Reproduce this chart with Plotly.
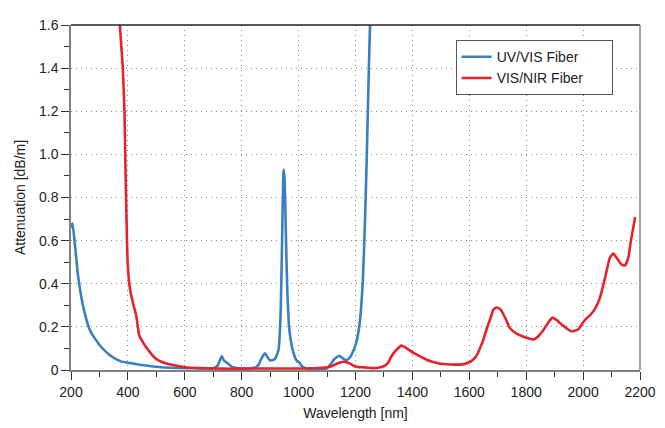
import plotly.graph_objects as go

# ---- data ----
wl_uv = [200, 205, 214, 225, 244, 268, 304, 339, 375, 400, 457, 518, 577, 640, 700,
         715, 730, 737, 744, 756, 768, 790, 815, 850, 860, 868, 882, 890, 899, 910,
         917, 925, 930, 937, 942, 946, 948, 951, 955, 960, 968, 982, 995, 1003, 1010,
         1030, 1060, 1100, 1112, 1125, 1143, 1155, 1167, 1178, 1185, 1202, 1214, 1226,
         1234, 1240, 1246, 1251, 1256]
att_uv = [0.66, 0.68, 0.58, 0.435, 0.287, 0.18, 0.11, 0.066, 0.04, 0.034, 0.022, 0.013,
          0.009, 0.008, 0.008, 0.02, 0.065, 0.045, 0.037, 0.025, 0.013, 0.008, 0.006,
          0.013, 0.025, 0.05, 0.077, 0.06, 0.045, 0.046, 0.052, 0.075, 0.1, 0.27, 0.6,
          0.9, 0.93, 0.88, 0.65, 0.38, 0.18, 0.08, 0.04, 0.035, 0.02, 0.006, 0.005,
          0.008, 0.025, 0.05, 0.066, 0.055, 0.045, 0.055, 0.068, 0.124, 0.21, 0.42,
          0.72, 1.01, 1.35, 1.6, 1.9]

wl_nir = [365, 372, 382, 388, 392, 396, 399, 405, 411, 420, 429, 435, 440, 452, 464,
          476, 488, 503, 518, 535, 554, 578, 601, 650, 700, 760, 850, 950, 1050, 1101,
          1120, 1140, 1161, 1180, 1202, 1230, 1256, 1280, 1304, 1315, 1327, 1345, 1362,
          1375, 1399, 1420, 1446, 1470, 1494, 1518, 1545, 1565, 1583, 1601, 1613, 1625,
          1637, 1649, 1661, 1673, 1685, 1696, 1710, 1727, 1740, 1750, 1765, 1780, 1800,
          1827, 1845, 1863, 1880, 1893, 1908, 1923, 1940, 1958, 1982, 2005, 2025, 2040,
          2058, 2076, 2094, 2106, 2118, 2135, 2147, 2159, 2168, 2183]
att_nir = [1.9, 1.6, 1.4, 1.2, 0.9, 0.65, 0.5, 0.40, 0.35, 0.30, 0.255, 0.2, 0.16, 0.13,
           0.105, 0.085, 0.065, 0.048, 0.038, 0.03, 0.024, 0.018, 0.013, 0.009, 0.007,
           0.006, 0.007, 0.007, 0.008, 0.013, 0.02, 0.032, 0.038, 0.03, 0.015, 0.012,
           0.009, 0.01, 0.02, 0.035, 0.065, 0.095, 0.113, 0.105, 0.083, 0.068, 0.05,
           0.038, 0.03, 0.027, 0.025, 0.025, 0.028, 0.037, 0.048, 0.065, 0.1, 0.14, 0.19,
           0.235, 0.28, 0.29, 0.28, 0.24, 0.2, 0.185, 0.17, 0.16, 0.15, 0.142, 0.16, 0.19,
           0.225, 0.243, 0.23, 0.213, 0.195, 0.18, 0.188, 0.23, 0.255, 0.28, 0.33, 0.42,
           0.52, 0.54, 0.52, 0.49, 0.485, 0.52, 0.6, 0.71]

x_ticks = [200, 400, 600, 800, 1000, 1200, 1400, 1600, 1800, 2000, 2200]
y_ticks = [0, 0.2, 0.4, 0.6, 0.8, 1.0, 1.2, 1.4, 1.6]
y_tick_labels = ["0", "0.2", "0.4", "0.6", "0.8", "1.0", "1.2", "1.4", "1.6"]

series_names = ["UV/VIS Fiber", "VIS/NIR Fiber"]
BLUE = "#3a7fc0"
RED = "#e4232a"
PAD = "\u00a0" * 6  # extra room on the right of the legend box, as in the reference

fig = go.Figure()
fig.add_trace(go.Scatter(x=wl_uv, y=att_uv, mode="lines", name=series_names[0] + PAD,
                         line=dict(color=BLUE, width=2.6, shape="spline", smoothing=0.5)))
fig.add_trace(go.Scatter(x=wl_nir, y=att_nir, mode="lines", name=series_names[1] + PAD,
                         line=dict(color=RED, width=2.6, shape="spline", smoothing=0.5)))

FONT = "Liberation Sans, Arial, Helvetica, sans-serif"
axis_common = dict(
    showline=True, linecolor="#808080", linewidth=1.5,
    ticks="outside", ticklen=8, tickcolor="#333333", tickwidth=1.3,
    showgrid=True, gridcolor="#8a8a8a", gridwidth=1, griddash="1px,4px",
    zeroline=False,
    tickfont=dict(family=FONT, size=14, color="#222222"),
)

fig.update_xaxes(
    range=[200, 2200], tickvals=x_ticks,
    minor=dict(ticks="outside", ticklen=5, dtick=100, tick0=200, tickcolor="#333333",
               showgrid=False),
    title=dict(text="Wavelength [nm]", font=dict(family=FONT, size=14, color="#222222"),
               standoff=10),
    **axis_common,
)
fig.update_yaxes(
    range=[0, 1.6], tickvals=y_ticks, ticktext=y_tick_labels,
    minor=dict(ticks="outside", ticklen=5, dtick=0.1, tick0=0, tickcolor="#333333",
               showgrid=False),
    title=dict(text="Attenuation [dB/m]", font=dict(family=FONT, size=14, color="#222222"),
               standoff=10),
    **axis_common,
)

# frame: top and right borders
fig.add_shape(type="line", xref="paper", yref="paper", x0=0, x1=1, y0=1, y1=1,
              line=dict(color="#222222", width=1.5))
fig.add_shape(type="line", xref="paper", yref="paper", x0=1, x1=1, y0=0, y1=1,
              line=dict(color="#808080", width=1.5))

# page body has an 8px margin, so the figure is sized/offset to compensate
fig.update_layout(
    width=657, height=420,
    margin=dict(l=63, r=24, t=9, b=50),
    paper_bgcolor="white", plot_bgcolor="white",
    font=dict(family=FONT, size=14, color="#222222"),
    showlegend=True,
    legend=dict(x=0.676, y=0.956, xanchor="left", yanchor="top",
                bgcolor="white", bordercolor="#555555", borderwidth=1,
                font=dict(family=FONT, size=14, color="#222222"),
                itemwidth=30, tracegroupgap=0),
)

fig.write_html("out.html")
